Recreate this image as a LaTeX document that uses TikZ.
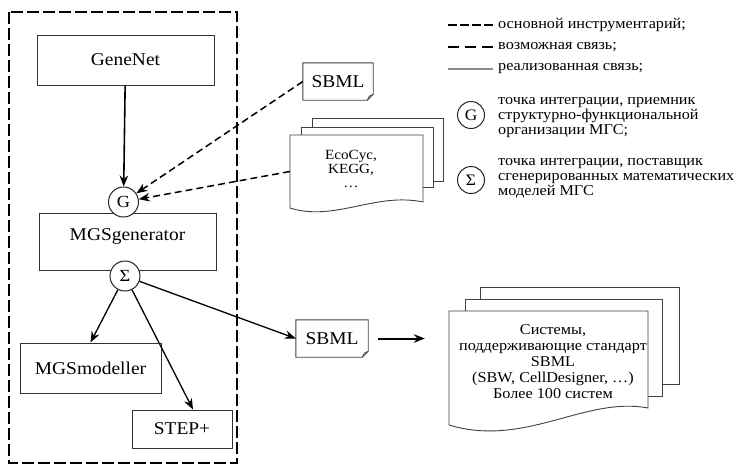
\documentclass[tikz,border=0pt]{standalone}
\usepackage{fontspec}
\setmainfont{Liberation Serif}[FakeStretch=1.08]
\usetikzlibrary{arrows.meta,calc}
\begin{document}
\begin{tikzpicture}[x=1pt,y=-1pt,
  box/.style={draw=black!80,line width=1pt,inner sep=0pt,font=\fontsize{18}{20}\selectfont},
  ipoint/.style={circle,draw=black!85,line width=1pt,fill=white,minimum size=30pt,inner sep=0pt,font=\fontsize{17}{17}\selectfont},
  arr/.style={line width=1.3pt,-{Stealth[length=11pt,width=8.5pt]}},
  darr/.style={arr,line width=1.5pt,dash pattern=on 7pt off 4pt},
  sheet/.style={draw=black!75,line width=0.9pt,fill=white},
  doc/.style={inner sep=0pt,align=center},
  legtext/.style={anchor=west,align=left,inner sep=0pt,font=\fontsize{15}{15}\selectfont}]
\useasboundingbox (0,0) rectangle (736,467);
\fill[white] (0,0) rectangle (736,467);

% frame
\draw[line width=2.2pt,dash pattern=on 12pt off 4pt] (9,12) rectangle (237,463);

% left column
\node[box,minimum width=177pt,minimum height=50pt] (genenet) at (125.5,60) {GeneNet};
\node[box,minimum width=177pt,minimum height=57pt,
  label={[yshift=5pt,font=\fontsize{18}{20}\selectfont]center:MGSgenerator}] (mgsgen) at (127.5,241.5) {};
\node[ipoint] (G) at (123.5,202) {G};
\node[ipoint] (S) at (125,276) {Σ};
\node[box,minimum width=141pt,minimum height=50pt] (modeller) at (90.5,368) {MGSmodeller};
\node[box,minimum width=100pt,minimum height=38pt] (step) at (182,429) {STEP+};

% SBML top
\node[inner sep=0pt,minimum width=70pt,minimum height=37pt] (sbmlA) at (338,81.5) {};
\draw[sheet] (sbmlA.north west) -- (sbmlA.north east) -- ([yshift=6pt]sbmlA.south east)
  -- ([xshift=-6pt]sbmlA.south east) -- (sbmlA.south west) -- cycle;
\draw[draw=black!75,line width=0.6pt] ([xshift=-6pt]sbmlA.south east) -- ([xshift=-4pt,yshift=4pt]sbmlA.south east) -- ([yshift=6pt]sbmlA.south east);
\node[inner sep=0pt,font=\fontsize{18}{20}\selectfont] (sbmlAt) at (sbmlA) {SBML};

% SBML lower
\node[inner sep=0pt,minimum width=72pt,minimum height=37pt] (sbmlB) at (332,338.5) {};
\draw[sheet] (sbmlB.north west) -- (sbmlB.north east) -- ([yshift=6pt]sbmlB.south east)
  -- ([xshift=-6pt]sbmlB.south east) -- (sbmlB.south west) -- cycle;
\draw[draw=black!75,line width=0.6pt] ([xshift=-6pt]sbmlB.south east) -- ([xshift=-4pt,yshift=4pt]sbmlB.south east) -- ([yshift=6pt]sbmlB.south east);
\node[inner sep=0pt,font=\fontsize{18}{20}\selectfont] (sbmlBt) at (sbmlB) {SBML};

% EcoCyc stack
\draw[sheet] (312,118) rectangle (443,181);
\draw[sheet] (301,127) rectangle (433,187);
\draw[sheet] (290,208) -- (290,135) -- (423,135) -- (423,202) .. controls (375,192) and (335,222) .. (290,208);
\node[doc,minimum width=133pt,minimum height=73pt] (eco) at (356.5,171.5) {};
\node[doc,font=\fontsize{14}{14}\selectfont] (ecot) at (351,169) {EcoCyc,\\KEGG,\\…};

% Systems stack
\draw[sheet] (480,287) rectangle (679,384);
\draw[sheet] (465,299) rectangle (662,396);
\draw[sheet] (449,425) -- (449,311) -- (648,311) -- (648,408) .. controls (585,396) and (525,448) .. (449,425);
\node[doc,minimum width=199pt,minimum height=114pt] (sys) at (548.5,362) {};
\node[doc,font=\fontsize{15}{15.8}\selectfont] (syst) at (553,361.5) {Системы,\\поддерживающие стандарт\\SBML\\(SBW, CellDesigner, …)\\Более 100 систем};

% connectors
\draw[arr,line width=1.6pt] (genenet) -- (G);
\draw[darr] (sbmlA.west) -- (G);
\draw[darr] (eco.west) -- (G);
\draw[arr] (S) -- (modeller.north);
\draw[arr] (S) -- ([xshift=11pt]step.north);
\draw[arr] (S) -- (sbmlB.west);
\draw[arr,line width=2pt,shorten <=10pt,shorten >=24pt] (sbmlB.east) -- (sbmlB.east -| sys.west);

% legend
\coordinate (l1a) at (448,25); \coordinate (l1b) at (493,25);
\coordinate (l2a) at (448,47); \coordinate (l2b) at (493,47);
\coordinate (l3a) at (448,69); \coordinate (l3b) at (493,69);
\draw[line width=2.2pt,dash pattern=on 9pt off 3pt] (l1a) -- (l1b);
\draw[line width=2.2pt,dash pattern=on 11pt off 6pt] (l2a) -- (l2b);
\draw[line width=1.2pt,black!45] (l3a) -- (l3b);
\node[legtext] (t1) at (498,25) {основной инструментарий;};
\node[legtext] (t2) at (498,47) {возможная связь;};
\node[legtext] (t3) at (498,69) {реализованная связь;};
\node[ipoint,minimum size=27pt,font=\fontsize{16}{16}\selectfont] (lG) at (471,115) {G};
\node[legtext] (t4) at (498,118) {точка интеграции, приемник\\структурно-функциональной\\организации МГС;};
\node[ipoint,minimum size=27pt,font=\fontsize{16}{16}\selectfont] (lS) at (471,180) {Σ};
\node[legtext] (t5) at (498,178) {точка интеграции, поставщик\\сгенерированных математических\\моделей МГС};
\end{tikzpicture}
\end{document}
